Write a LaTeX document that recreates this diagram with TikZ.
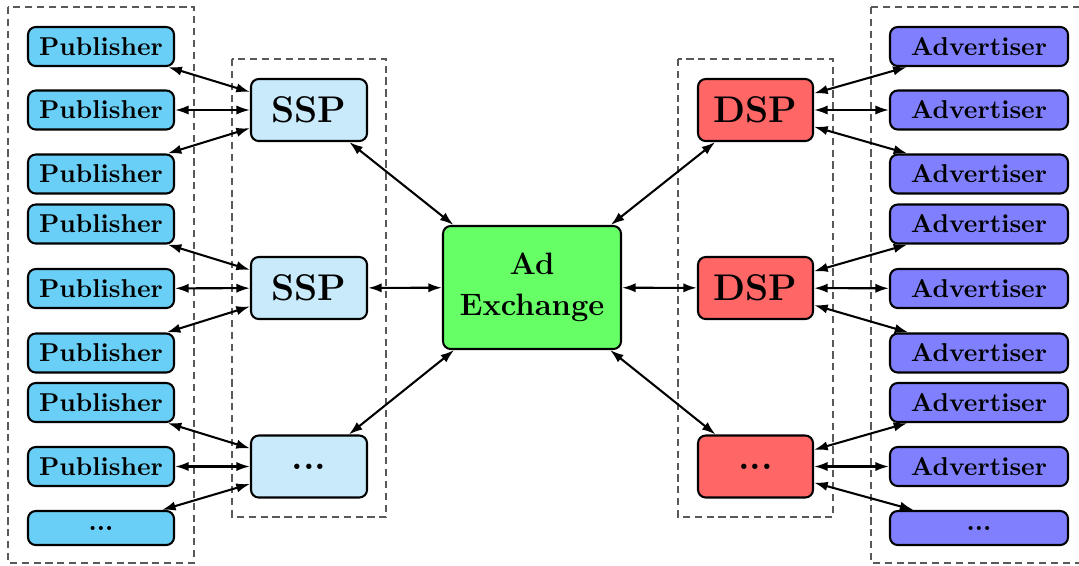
\documentclass[tikz,border=0pt]{standalone}
\usetikzlibrary{arrows.meta}

\definecolor{pubfill}{RGB}{106,207,246}
\definecolor{sspfill}{RGB}{200,234,250}
\definecolor{adxfill}{RGB}{102,255,102}
\definecolor{dspfill}{RGB}{255,102,102}
\definecolor{advfill}{RGB}{128,128,255}

\newlength\pxl
\setlength\pxl{0.3876pt}

\tikzset{
  box/.style={draw=black, thick, rounded corners=3pt, inner sep=0pt, align=center},
  pub/.style={box, fill=pubfill, minimum width=146*\pxl, minimum height=39*\pxl,
              font=\fontsize{10}{12}\selectfont\bfseries},
  adv/.style={box, fill=advfill, minimum width=178*\pxl, minimum height=39*\pxl,
              font=\fontsize{10}{12}\selectfont\bfseries},
  ssp/.style={box, fill=sspfill, minimum width=116*\pxl, minimum height=62*\pxl,
              font=\fontsize{14.4}{17}\selectfont\bfseries},
  dsp/.style={box, fill=dspfill, minimum width=115*\pxl, minimum height=62*\pxl,
              font=\fontsize{14.4}{17}\selectfont\bfseries},
  adx/.style={box, fill=adxfill, minimum width=178*\pxl, minimum height=123*\pxl,
              font=\fontsize{12}{15.9}\selectfont\bfseries},
  group/.style={draw=black!65, line width=0.4pt, dash pattern=on 2.8pt off 1.8pt},
  link/.style={thick, {Latex[length=5.3pt,width=3.6pt]}-{Latex[length=5.3pt,width=3.6pt]}},
}

\begin{document}
\begin{tikzpicture}[x=0.3876pt, y=-0.3876pt]
\useasboundingbox (0,0) rectangle (1079,565);

% dashed group frames
\draw[group] (8,7) rectangle (194,563);
\draw[group] (232,59) rectangle (386,517);
\draw[group] (678,59) rectangle (833,517);
\draw[group] (871,7) rectangle (1090,563);

% publishers
\node[pub] (p1) at (101,46.5) {Publisher};
\node[pub] (p2) at (101,110) {Publisher};
\node[pub] (p3) at (101,174) {Publisher};
\node[pub] (p4) at (101,224) {Publisher};
\node[pub] (p5) at (101,288.5) {Publisher};
\node[pub] (p6) at (101,353) {Publisher};
\node[pub] (p7) at (101,402.5) {Publisher};
\node[pub] (p8) at (101,466.5) {Publisher};
\node[pub, minimum height=34*\pxl] (p9) at (101,528) {...};

% supply-side platforms
\node[ssp] (s1) at (309,110) {SSP};
\node[ssp] (s2) at (309,288) {SSP};
\node[ssp] (s3) at (309,466.5) {...};

% exchange
\node[adx] (x) at (532,287.5) {Ad\\Exchange};

% demand-side platforms
\node[dsp] (d1) at (755.5,110) {DSP};
\node[dsp] (d2) at (755.5,288) {DSP};
\node[dsp] (d3) at (755.5,466.5) {...};

% advertisers
\node[adv] (a1) at (979,46.5) {Advertiser};
\node[adv] (a2) at (979,110) {Advertiser};
\node[adv] (a3) at (979,174) {Advertiser};
\node[adv] (a4) at (979,224) {Advertiser};
\node[adv] (a5) at (979,288.5) {Advertiser};
\node[adv] (a6) at (979,353) {Advertiser};
\node[adv] (a7) at (979,402.5) {Advertiser};
\node[adv] (a8) at (979,466.5) {Advertiser};
\node[adv, minimum height=34*\pxl] (a9) at (979,528) {...};

% publisher <-> SSP
\foreach \p/\s in {p1/s1,p2/s1,p3/s1,p4/s2,p5/s2,p6/s2,p7/s3,p8/s3,p9/s3}
  \draw[link] (\p) -- (\s);

% SSP <-> exchange <-> DSP
\foreach \s in {s1,s2,s3} \draw[link] (\s) -- (x);
\foreach \d in {d1,d2,d3} \draw[link] (x) -- (\d);

% DSP <-> advertiser
\foreach \d/\a in {d1/a1,d1/a2,d1/a3,d2/a4,d2/a5,d2/a6,d3/a7,d3/a8,d3/a9}
  \draw[link] (\d) -- (\a);
\end{tikzpicture}
\end{document}
